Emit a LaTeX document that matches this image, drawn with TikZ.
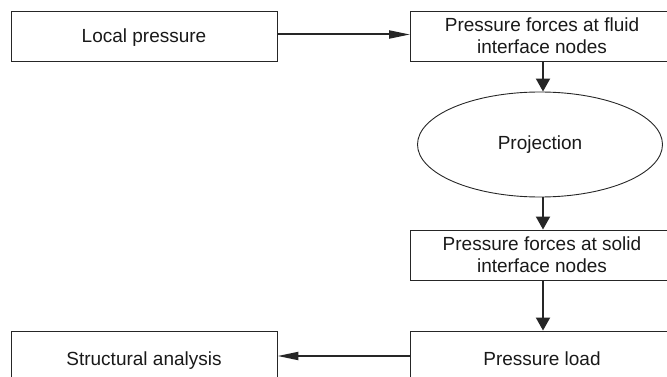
\documentclass[tikz,border=0pt]{standalone}
\usepackage{fontspec}
\setmainfont{Liberation Sans}
\usetikzlibrary{shapes.geometric,arrows.meta}
\begin{document}
\begin{tikzpicture}[x=1pt,y=1pt,
  box/.style={draw=black!85, line width=0.9pt, rectangle, minimum width=#1, minimum height=50pt, inner sep=0pt, align=center, text=black!90, font=\fontsize{19}{21.7}\selectfont},
  box/.default=263pt,
  oneline/.style={text height=16pt, text depth=4pt},
  oval/.style={draw=black!85, line width=0.9pt, ellipse, minimum width=245pt, minimum height=105pt, inner sep=0pt, text=black!90, font=\fontsize{19}{21.7}\selectfont},
  harrow/.style={line width=2pt, draw=black!85, -{Triangle[length=21pt,width=8pt]}},
  varrow/.style={line width=2pt, draw=black!85, -{Triangle[length=13pt,width=14pt]}}]
\useasboundingbox (0,0) rectangle (667,-377);
\clip (0,0) rectangle (667,-377);
\node[box=266pt, oneline] (lp) at (144,-36.5) {Local pressure};
\node[box] (pf) at (542,-36) {Pressure forces at fluid\\interface nodes};
\node[oval, text height=13.6pt, text depth=4pt] (pr) at (540,-144.5) {Projection};
\node[box] (ps) at (542,-255) {Pressure forces at solid\\interface nodes};
\node[box, oneline, minimum height=56pt] (pl) at (542,-359) {Pressure load};
\node[box=266pt, oneline, minimum height=56pt] (sa) at (144,-359) {Structural analysis};
\draw[harrow] (lp.east |- 0,-34.5) -- (pf.west |- 0,-34.5);
\draw[varrow] ([xshift=1pt]pf.south) -- ([xshift=1pt]pf.south |- pr.north);
\draw[varrow] ([xshift=1pt]pf.south |- pr.south) -- ([xshift=1pt]ps.north);
\draw[varrow] ([xshift=1pt]ps.south) -- ([xshift=1pt]pl.north);
\draw[harrow] (pl.west |- 0,-356) -- (sa.east |- 0,-356);
\end{tikzpicture}
\end{document}
